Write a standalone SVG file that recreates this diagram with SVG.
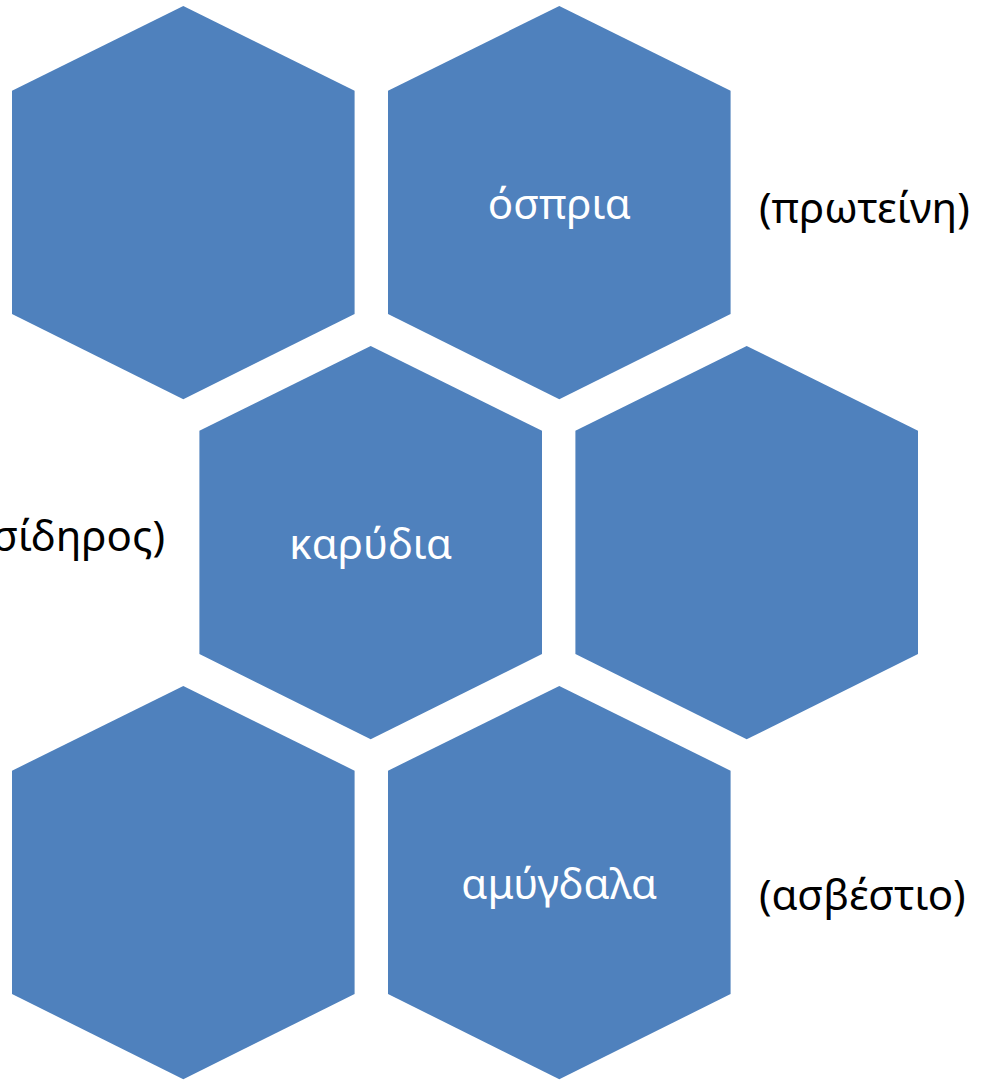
<svg xmlns="http://www.w3.org/2000/svg" width="981" height="1081" viewBox="0 0 981 1081">
<defs>
<style>
.hex{fill:#4F81BD;}
.lbl{font-family:"Noto Sans","Open Sans",sans-serif;font-size:42px;fill:#FFFFFF;text-anchor:middle;}
.side{font-family:"Noto Sans","Open Sans",sans-serif;font-size:42px;fill:#000000;}
</style>
<polygon id="hexshape" points="0,0 171.3,84.7 171.3,308 0,393.3 -171.3,308 -171.3,84.7"/>
</defs>
<rect width="981" height="1081" fill="#FFFFFF"/>
<g id="hex1"><use href="#hexshape" class="hex" x="183.3" y="6"/></g>
<g id="hex2"><use href="#hexshape" class="hex" x="559.3" y="6"/><text class="lbl" x="559.3" y="219">όσπρια</text></g>
<g id="hex3"><use href="#hexshape" class="hex" x="370.7" y="346"/><text class="lbl" x="370.7" y="559">καρύδια</text></g>
<g id="hex4"><use href="#hexshape" class="hex" x="746.7" y="346"/></g>
<g id="hex5"><use href="#hexshape" class="hex" x="183.3" y="686"/></g>
<g id="hex6"><use href="#hexshape" class="hex" x="559.3" y="686"/><text class="lbl" x="559.3" y="899">αμύγδαλα</text></g>
<g id="label-protein"><text class="side" x="759" y="223">(πρωτείνη)</text></g>
<g id="label-iron"><text class="side" x="165" y="551" text-anchor="end">(σίδηρος)</text></g>
<g id="label-calcium"><text class="side" x="759" y="910">(ασβέστιο)</text></g>
<g id="connectors"></g>
</svg>
